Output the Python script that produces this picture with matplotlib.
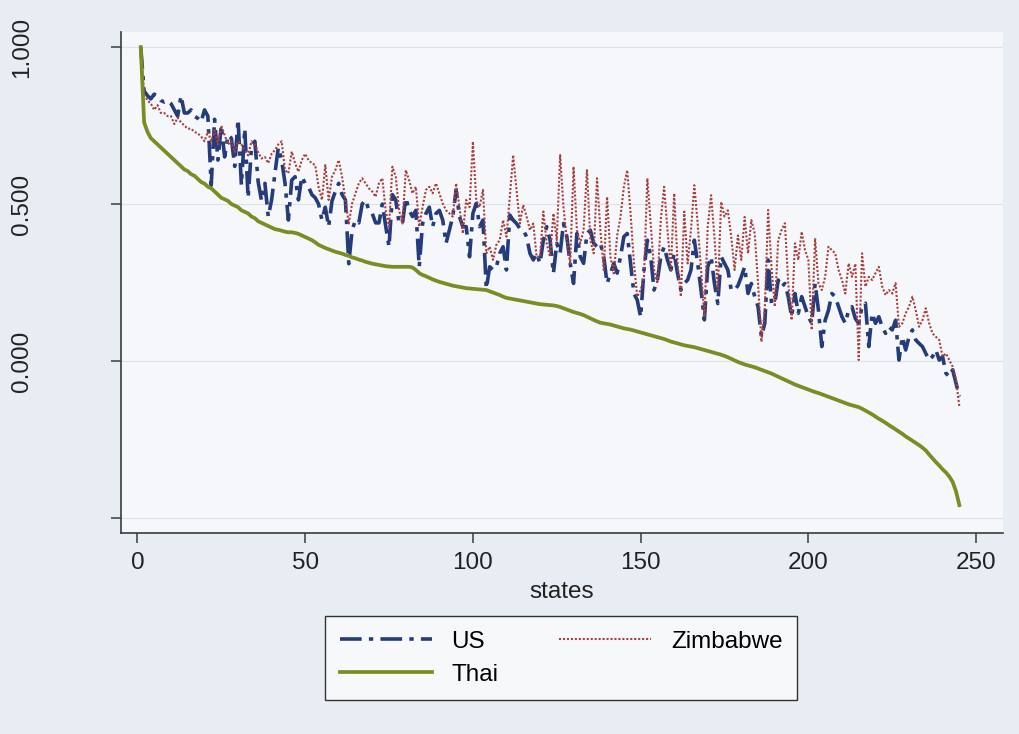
import numpy as np
import matplotlib.pyplot as plt

# states ranked 1..245
states = np.arange(1, 246)

us = [
    1.0, 0.86, 0.845, 0.835, 0.85, 0.845, 0.83, 0.825, 0.83, 0.82,
    0.80, 0.78, 0.845, 0.79, 0.79, 0.80, 0.78, 0.773, 0.762, 0.80,
    0.78, 0.56, 0.77, 0.64, 0.75, 0.65, 0.72, 0.71, 0.62, 0.77,
    0.56, 0.74, 0.52, 0.68, 0.70, 0.57, 0.51, 0.566, 0.46, 0.513,
    0.598, 0.68, 0.64, 0.566, 0.449, 0.576, 0.587, 0.513, 0.587, 0.566,
    0.555, 0.53, 0.52, 0.50, 0.449, 0.49, 0.428, 0.51, 0.54, 0.566,
    0.53, 0.513, 0.31, 0.417, 0.449, 0.44, 0.50, 0.513, 0.48, 0.47,
    0.44, 0.44, 0.50, 0.43, 0.364, 0.53, 0.513, 0.438, 0.438, 0.52,
    0.48, 0.46, 0.48, 0.30, 0.438, 0.47, 0.49, 0.428, 0.47, 0.48,
    0.449, 0.375, 0.417, 0.46, 0.545, 0.46, 0.428, 0.428, 0.332, 0.47,
    0.502, 0.428, 0.449, 0.23, 0.30, 0.29, 0.30, 0.343, 0.364, 0.29,
    0.465, 0.449, 0.438, 0.422, 0.417, 0.396, 0.343, 0.322, 0.343, 0.311,
    0.385, 0.428, 0.385, 0.279, 0.375, 0.343, 0.438, 0.396, 0.311, 0.247,
    0.406, 0.332, 0.311, 0.406, 0.417, 0.375, 0.364, 0.375, 0.332, 0.247,
    0.279, 0.311, 0.28, 0.332, 0.396, 0.406, 0.311, 0.215, 0.194, 0.14,
    0.29, 0.385, 0.332, 0.226, 0.258, 0.332, 0.364, 0.322, 0.29, 0.343,
    0.279, 0.226, 0.247, 0.258, 0.29, 0.385, 0.311, 0.226, 0.131, 0.30,
    0.332, 0.247, 0.183, 0.332, 0.311, 0.29, 0.226, 0.226, 0.24, 0.268,
    0.30, 0.215, 0.247, 0.205, 0.173, 0.077, 0.12, 0.322, 0.184, 0.184,
    0.258, 0.236, 0.247, 0.205, 0.141, 0.215, 0.152, 0.205, 0.173, 0.141,
    0.12, 0.247, 0.162, 0.046, 0.13, 0.162, 0.215, 0.205, 0.173, 0.141,
    0.12, 0.162, 0.173, 0.135, 0.12, 0.173, 0.184, 0.046, 0.152, 0.12,
    0.141, 0.109, 0.088, 0.109, 0.099, 0.13, 0.003, 0.077, 0.035, 0.077,
    0.099, 0.067, 0.056, 0.046, 0.024, 0.003, 0.014, 0.035, 0.003, 0.014,
    -0.039, -0.05, -0.028, -0.071, -0.113,
]

zimbabwe = [
    1.0, 0.85, 0.83, 0.82, 0.80, 0.815, 0.79, 0.79, 0.78, 0.78,
    0.755, 0.775, 0.76, 0.75, 0.74, 0.74, 0.73, 0.725, 0.715, 0.70,
    0.73, 0.70, 0.735, 0.69, 0.75, 0.72, 0.69, 0.70, 0.665, 0.70,
    0.69, 0.67, 0.655, 0.70, 0.69, 0.665, 0.645, 0.65, 0.63, 0.66,
    0.672, 0.69, 0.70, 0.608, 0.598, 0.667, 0.63, 0.603, 0.64, 0.66,
    0.64, 0.63, 0.624, 0.555, 0.513, 0.624, 0.513, 0.587, 0.608, 0.64,
    0.587, 0.513, 0.438, 0.502, 0.534, 0.566, 0.582, 0.566, 0.55, 0.54,
    0.523, 0.566, 0.582, 0.48, 0.428, 0.619, 0.587, 0.48, 0.438, 0.608,
    0.576, 0.534, 0.555, 0.428, 0.49, 0.545, 0.555, 0.534, 0.566, 0.534,
    0.502, 0.48, 0.47, 0.46, 0.566, 0.49, 0.406, 0.513, 0.49, 0.699,
    0.513, 0.49, 0.545, 0.343, 0.364, 0.322, 0.37, 0.385, 0.449, 0.396,
    0.523, 0.656, 0.545, 0.438, 0.497, 0.46, 0.417, 0.438, 0.332, 0.332,
    0.476, 0.375, 0.332, 0.47, 0.385, 0.656, 0.49, 0.385, 0.311, 0.619,
    0.417, 0.375, 0.417, 0.608, 0.385, 0.343, 0.582, 0.417, 0.29, 0.523,
    0.332, 0.279, 0.40, 0.46, 0.555, 0.608, 0.47, 0.311, 0.205, 0.226,
    0.268, 0.582, 0.438, 0.29, 0.247, 0.449, 0.555, 0.417, 0.29, 0.534,
    0.311, 0.205, 0.476, 0.311, 0.417, 0.56, 0.438, 0.29, 0.141, 0.428,
    0.528, 0.396, 0.226, 0.507, 0.46, 0.48, 0.396, 0.29, 0.40, 0.322,
    0.459, 0.343, 0.449, 0.406, 0.247, 0.061, 0.162, 0.481, 0.30, 0.173,
    0.385, 0.417, 0.439, 0.247, 0.13, 0.375, 0.322, 0.412, 0.353, 0.322,
    0.099, 0.391, 0.247, 0.226, 0.268, 0.364, 0.353, 0.343, 0.29, 0.258,
    0.215, 0.311, 0.268, 0.31, 0.003, 0.343, 0.237, 0.268, 0.258, 0.28,
    0.30, 0.237, 0.21, 0.226, 0.215, 0.248, 0.109, 0.12, 0.152, 0.173,
    0.205, 0.162, 0.109, 0.13, 0.168, 0.12, 0.088, 0.077, 0.067, 0.014,
    0.024, 0.003, -0.018, -0.06, -0.145,
]

thai = [
    1.0, 0.76, 0.73, 0.71, 0.70, 0.69, 0.68, 0.67, 0.66, 0.65,
    0.64, 0.63, 0.62, 0.61, 0.605, 0.595, 0.59, 0.58, 0.57, 0.565,
    0.555, 0.55, 0.54, 0.53, 0.52, 0.515, 0.51, 0.50, 0.495, 0.49,
    0.48, 0.475, 0.47, 0.46, 0.455, 0.445, 0.44, 0.435, 0.43, 0.425,
    0.42, 0.418, 0.415, 0.412, 0.41, 0.41, 0.408, 0.405, 0.40, 0.395,
    0.39, 0.385, 0.378, 0.37, 0.365, 0.36, 0.356, 0.352, 0.348, 0.345,
    0.342, 0.338, 0.335, 0.33, 0.327, 0.323, 0.32, 0.316, 0.313, 0.31,
    0.308, 0.306, 0.304, 0.302, 0.301, 0.30, 0.30, 0.30, 0.30, 0.30,
    0.30, 0.298, 0.29, 0.28, 0.274, 0.27, 0.265, 0.26, 0.256, 0.252,
    0.249, 0.246, 0.243, 0.24, 0.238, 0.236, 0.234, 0.232, 0.231, 0.23,
    0.229, 0.228, 0.227, 0.226, 0.222, 0.218, 0.214, 0.21, 0.205, 0.201,
    0.199, 0.197, 0.195, 0.193, 0.191, 0.189, 0.187, 0.185, 0.183, 0.181,
    0.18, 0.179, 0.178, 0.177, 0.175, 0.172, 0.168, 0.164, 0.16, 0.156,
    0.153, 0.15, 0.146, 0.141, 0.136, 0.131, 0.126, 0.122, 0.12, 0.118,
    0.116, 0.113, 0.11, 0.107, 0.104, 0.102, 0.10, 0.097, 0.094, 0.091,
    0.088, 0.085, 0.082, 0.079, 0.076, 0.073, 0.07, 0.066, 0.062, 0.059,
    0.056, 0.053, 0.05, 0.048, 0.046, 0.044, 0.041, 0.038, 0.035, 0.032,
    0.029, 0.026, 0.023, 0.02, 0.016, 0.012, 0.007, 0.002, -0.003, -0.007,
    -0.011, -0.014, -0.017, -0.02, -0.024, -0.028, -0.032, -0.036, -0.04, -0.045,
    -0.05, -0.055, -0.06, -0.065, -0.07, -0.075, -0.079, -0.083, -0.087, -0.091,
    -0.095, -0.099, -0.102, -0.106, -0.11, -0.114, -0.118, -0.122, -0.126, -0.13,
    -0.134, -0.138, -0.141, -0.144, -0.147, -0.152, -0.158, -0.164, -0.17, -0.177,
    -0.184, -0.19, -0.197, -0.204, -0.211, -0.218, -0.225, -0.232, -0.24, -0.247,
    -0.254, -0.261, -0.268, -0.276, -0.285, -0.298, -0.31, -0.322, -0.333, -0.345,
    -0.355, -0.368, -0.385, -0.415, -0.459,
]

y_ticks = [-0.5, 0.0, 0.5, 1.0]
y_labels = ["", "0.000", "0.500", "1.000"]
x_ticks = [0, 50, 100, 150, 200, 250]

plt.rcParams['font.family'] = ['Liberation Sans', 'DejaVu Sans']

fig = plt.figure(figsize=(10.2, 7.34), dpi=100, facecolor='#e8edf3')
ax = fig.add_axes([0.1186, 0.2738, 0.8647, 0.6826])
ax.set_facecolor('#f5f7fa')

l_us, = ax.plot(states, us, color='#243c7c', lw=2.6,
                linestyle=(0, (6, 2, 1.2, 2)), label='US')
l_zw, = ax.plot(states, zimbabwe, color='#a8403f', lw=1.5,
                linestyle=(0, (1, 0.9)), label='Zimbabwe')
l_th, = ax.plot(states, thai, color='#7a8c22', lw=2.7, label='Thai')

ax.set_xlim(-4.9, 258)
ax.set_ylim(-0.548, 1.048)
ax.set_xticks(x_ticks)
ax.set_yticks(y_ticks)
ax.set_yticklabels(y_labels, rotation=90, va='center')
ax.yaxis.grid(True, color='#dde3ea', lw=0.8)
ax.set_axisbelow(True)

for s in ['top', 'right']:
    ax.spines[s].set_visible(False)
for s in ['left', 'bottom']:
    ax.spines[s].set_color('#3b3b3b')
    ax.spines[s].set_linewidth(1.2)

ax.tick_params(axis='both', direction='out', length=7, width=1.1,
               color='#3b3b3b', labelsize=17.5, labelcolor='#222222')
ax.tick_params(axis='y', pad=56)
ax.tick_params(axis='x', pad=7)
ax.set_xlabel("states", fontsize=17.5, color='#222222', labelpad=5)

leg = fig.legend([l_us, l_th, l_zw], ['US', 'Thai', 'Zimbabwe'],
                 ncol=2, loc='center', bbox_to_anchor=(0.55, 0.103),
                 fontsize=17.5, handlelength=3.8, handletextpad=0.8,
                 columnspacing=2.5, labelspacing=0.45, borderpad=0.6,
                 fancybox=False, framealpha=1)
leg.get_frame().set_facecolor('#f7f8fa')
leg.get_frame().set_edgecolor('#333333')
leg.get_frame().set_linewidth(1.0)

fig.savefig('out.png', dpi=100, facecolor=fig.get_facecolor())
